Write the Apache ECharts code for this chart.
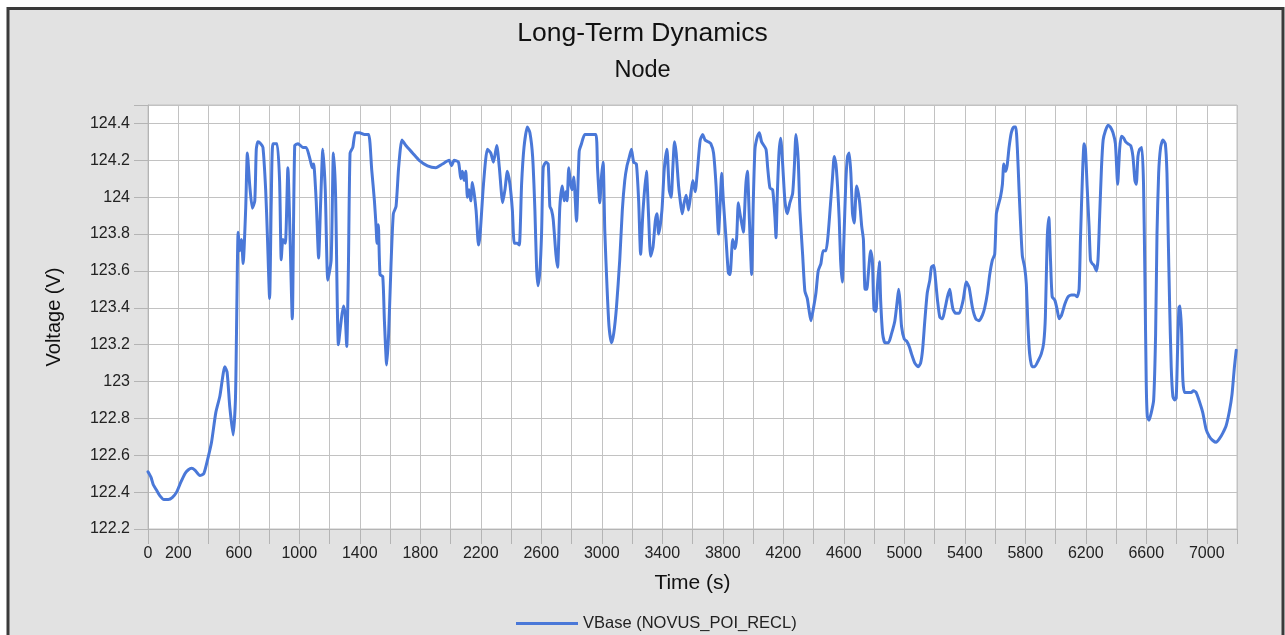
<!DOCTYPE html>
<html>
<head>
<meta charset="utf-8">
<title>Long-Term Dynamics</title>
<script src="https://cdn.jsdelivr.net/npm/echarts@6/dist/echarts.min.js"></script>
<style>
  html, body { margin: 0; padding: 0; background: #fff; }
  #pic1 { width: 1285px; height: 635px; }
</style>
</head>
<body>
<div id="pic1"></div>
<script>
// time (s) of each sample
var times = [
  0, 20, 35, 57, 79, 105, 134, 160, 189, 215, 244, 265, 288, 310, 343, 369, 398, 420, 448, 475, 508, 523, 541, 563, 578, 585, 589,
  596, 607, 618, 629, 646, 657, 673, 690, 706, 716, 727, 745, 760, 778, 789, 804, 815, 826, 853, 870,
  881, 892, 908, 925, 936, 954, 970, 992, 1024, 1046, 1073, 1086, 1095, 1112, 1128, 1141, 1156, 1172, 1189, 1211,
  1226, 1240, 1259, 1277, 1292, 1303, 1314, 1325, 1336, 1354, 1371, 1398, 1431, 1459, 1479, 1497, 1508, 1514, 1523, 1534,
  1552, 1563, 1578, 1591, 1607, 1622, 1640, 1657, 1679, 1705, 1749, 1793, 1848, 1903, 1947, 1991, 2007, 2024, 2053, 2068,
  2079, 2090, 2101, 2112, 2123, 2134, 2145, 2169, 2185, 2196, 2218, 2244, 2266, 2284, 2306, 2323, 2345, 2360, 2376, 2393,
  2409, 2422, 2442, 2455, 2470, 2486, 2508, 2525, 2543, 2558, 2569, 2578, 2591, 2602, 2613, 2631, 2646, 2657, 2668, 2679,
  2697, 2708, 2723, 2739, 2752, 2763, 2771, 2782, 2793, 2804, 2815, 2833, 2851, 2866, 2888, 2921, 2961, 2972, 2987, 2998,
  3009, 3020, 3035, 3048, 3064, 3079, 3097, 3119, 3136, 3152, 3167, 3180, 3196, 3211, 3229, 3244, 3257, 3273, 3295, 3310,
  3323, 3339, 3354, 3365, 3376, 3398, 3413, 3431, 3446, 3459, 3470, 3481, 3492, 3508, 3519, 3532, 3545, 3558, 3574, 3589,
  3602, 3618, 3633, 3651, 3668, 3683, 3705, 3721, 3739, 3756, 3772, 3783, 3793, 3804, 3822, 3837, 3848, 3866, 3881, 3892,
  3903, 3914, 3925, 3936, 3952, 3963, 3976, 3991, 4002, 4013, 4029, 4042, 4057, 4086, 4097, 4112, 4130, 4145, 4152, 4161,
  4172, 4183, 4196, 4211, 4227, 4244, 4262, 4273, 4284, 4299, 4310, 4328, 4343, 4359, 4370, 4383, 4398, 4416, 4431, 4449,
  4464, 4482, 4497, 4513, 4526, 4537, 4548, 4559, 4570, 4579, 4590, 4601, 4614, 4625, 4636, 4647, 4658, 4669, 4685, 4704,
  4719, 4730, 4741, 4752, 4763, 4778, 4789, 4800, 4813, 4822, 4835, 4844, 4857, 4873, 4895, 4916, 4938, 4954, 4963, 4971,
  4982, 5000, 5015, 5033, 5048, 5070, 5092, 5108, 5121, 5136, 5152, 5169, 5180, 5196, 5207, 5220, 5235, 5253, 5268, 5286,
  5301, 5312, 5323, 5341, 5363, 5389, 5411, 5429, 5451, 5473, 5495, 5517, 5532, 5550, 5565, 5583, 5598, 5609, 5620, 5636,
  5649, 5658, 5669, 5680, 5693, 5708, 5724, 5737, 5748, 5759, 5770, 5781, 5796, 5807, 5818, 5829, 5845, 5862, 5884, 5906,
  5922, 5933, 5945, 5956, 5967, 5978, 5996, 6011, 6024, 6040, 6062, 6084, 6106, 6127, 6143, 6156, 6165, 6178, 6189, 6198,
  6209, 6222, 6231, 6242, 6255, 6270, 6281, 6292, 6304, 6315, 6330, 6347, 6363, 6380, 6396, 6411, 6424, 6435, 6451, 6464,
  6479, 6497, 6512, 6525, 6534, 6545, 6556, 6571, 6582, 6591, 6600, 6607, 6618, 6633, 6649, 6662, 6671, 6682, 6695, 6710,
  6726, 6737, 6745, 6754, 6765, 6776, 6787, 6798, 6807, 6816, 6824, 6833, 6842, 6853, 6875, 6897, 6912, 6930, 6952, 6974,
  6996, 7018, 7040, 7062, 7084, 7106, 7128, 7150, 7167, 7183, 7195
];
// VBase (NOVUS_POI_RECL) voltage (V)
var vbase = [
  122.51, 122.48, 122.44, 122.41, 122.38, 122.36, 122.36, 122.37, 122.40, 122.45, 122.50, 122.52, 122.53, 122.52, 122.49, 122.50, 122.59, 122.67, 122.83, 122.92, 123.08, 123.05, 122.86, 122.71, 122.90, 123.26, 123.51,
  123.81, 123.71, 123.77, 123.64, 123.94, 124.24, 124.06, 123.94, 123.98, 124.26, 124.30, 124.29, 124.27, 124.04, 123.80, 123.45, 123.98, 124.29, 124.29, 124.09,
  123.66, 123.77, 123.75, 124.16, 123.89, 123.34, 124.28, 124.29, 124.27, 124.27, 124.20, 124.16, 124.18, 123.98, 123.67, 123.96, 124.26, 124.04, 123.55, 123.66,
  124.24, 124.02, 123.20, 123.33, 123.41, 123.37, 123.19, 123.62, 124.24, 124.27, 124.35, 124.35, 124.34, 124.34, 124.15, 123.98, 123.84, 123.75, 123.85, 123.58,
  123.57, 123.33, 123.09, 123.26, 123.64, 123.91, 123.95, 124.16, 124.31, 124.28, 124.24, 124.20, 124.17, 124.16, 124.18, 124.20, 124.17, 124.20, 124.19, 124.10,
  124.14, 124.09, 124.14, 124.00, 124.04, 123.98, 124.08, 123.93, 123.74, 123.80, 124.07, 124.26, 124.24, 124.19, 124.28, 124.16, 123.97, 124.04, 124.14, 124.07,
  123.93, 123.75, 123.75, 123.74, 124.07, 124.27, 124.38, 124.35, 124.22, 123.93, 123.62, 123.52, 123.60, 123.80, 124.16, 124.19, 124.18, 123.95, 123.93, 123.88,
  123.69, 123.62, 123.95, 124.06, 123.98, 124.03, 123.98, 124.16, 124.08, 124.04, 124.11, 123.87, 124.25, 124.29, 124.34, 124.34, 124.34, 124.16, 123.97, 124.11,
  124.19, 123.82, 123.51, 123.30, 123.21, 123.26, 123.40, 123.66, 123.93, 124.09, 124.17, 124.21, 124.26, 124.19, 124.18, 123.98, 123.69, 123.93, 124.14, 123.89,
  123.68, 123.73, 123.87, 123.91, 123.80, 123.93, 124.15, 124.26, 124.04, 124.00, 124.16, 124.30, 124.24, 124.06, 123.98, 123.91, 123.97, 124.01, 123.93, 124.02,
  124.09, 124.03, 124.15, 124.31, 124.34, 124.31, 124.30, 124.29, 124.24, 124.06, 123.80, 123.97, 124.13, 123.98, 123.77, 123.59, 123.58, 123.77, 123.72, 123.78,
  123.97, 123.91, 123.86, 123.81, 124.06, 124.14, 123.88, 123.58, 123.98, 124.26, 124.33, 124.35, 124.30, 124.26, 124.16, 124.05, 124.04, 123.89, 123.78, 124.02,
  124.24, 124.32, 124.18, 123.98, 123.91, 123.97, 124.02, 124.16, 124.34, 124.20, 123.93, 123.69, 123.49, 123.45, 123.39, 123.33, 123.39, 123.48, 123.60, 123.64,
  123.71, 123.71, 123.80, 123.97, 124.11, 124.22, 124.18, 124.06, 123.88, 123.66, 123.54, 123.77, 124.09, 124.22, 124.24, 124.13, 123.91, 123.86, 124.06, 123.98,
  123.84, 123.77, 123.50, 123.50, 123.59, 123.71, 123.66, 123.39, 123.38, 123.51, 123.65, 123.44, 123.26, 123.21, 123.21, 123.26, 123.33, 123.44, 123.50, 123.44,
  123.30, 123.23, 123.22, 123.19, 123.15, 123.10, 123.08, 123.10, 123.17, 123.33, 123.48, 123.55, 123.62, 123.63, 123.55, 123.44, 123.35, 123.34, 123.39, 123.46,
  123.50, 123.44, 123.39, 123.37, 123.37, 123.44, 123.54, 123.51, 123.40, 123.34, 123.33, 123.36, 123.40, 123.48, 123.58, 123.66, 123.69, 123.91, 123.95, 124.00,
  124.07, 124.18, 124.14, 124.17, 124.27, 124.35, 124.38, 124.38, 124.26, 124.04, 123.84, 123.68, 123.62, 123.53, 123.30, 123.15, 123.08, 123.08, 123.11, 123.15,
  123.21, 123.35, 123.77, 123.89, 123.66, 123.46, 123.44, 123.39, 123.34, 123.36, 123.42, 123.46, 123.47, 123.47, 123.46, 123.50, 123.77, 124.11, 124.29, 124.26,
  124.06, 123.84, 123.66, 123.64, 123.63, 123.60, 123.66, 123.90, 124.16, 124.31, 124.36, 124.39, 124.38, 124.35, 124.29, 124.07, 124.26, 124.33, 124.32, 124.30,
  124.29, 124.28, 124.22, 124.09, 124.07, 124.22, 124.26, 124.27, 124.07, 123.57, 122.99, 122.81, 122.79, 122.83, 122.90, 123.26, 123.80, 124.13, 124.27, 124.31,
  124.29, 124.13, 123.80, 123.44, 123.08, 122.92, 122.90, 122.91, 123.17, 123.40, 123.41, 123.28, 123.01, 122.94, 122.94, 122.94, 122.95, 122.94, 122.89, 122.83,
  122.74, 122.70, 122.68, 122.67, 122.69, 122.72, 122.76, 122.84, 122.93, 123.08, 123.17
];
// tick labels that are printed on the axes
var xLabels = [0, 200, 600, 1000, 1400, 1800, 2200, 2600, 3000, 3400, 3800, 4200, 4600, 5000, 5400, 5800, 6200, 6600, 7000];
var yLabels = [122.2, 122.4, 122.6, 122.8, 123, 123.2, 123.4, 123.6, 123.8, 124, 124.2, 124.4];

var FONT = "'Liberation Sans', Arial, sans-serif";

function drawChart() {
  var myChart = echarts.init(document.getElementById("pic1"));
  var data = times.map(function (t, i) { return [t, vbase[i]]; });

  var option = {
    backgroundColor: "#fff",
    animation: false,
    textStyle: { fontFamily: FONT },
    graphic: [
      {
        type: "rect",
        z: -10,
        silent: true,
        shape: { x: 8, y: 8.5, width: 1275, height: 700 },
        style: { fill: "#e2e2e2", stroke: "#3a3a3a", lineWidth: 3 }
      }
    ],
    title: {
      text: "Long-Term Dynamics",
      subtext: "Node",
      left: "center",
      top: 15,
      itemGap: 12,
      textStyle: { fontSize: 26.5, fontWeight: "normal", color: "#111", fontFamily: FONT },
      subtextStyle: { fontSize: 23.5, color: "#111", fontFamily: FONT }
    },
    legend: {
      left: 511,
      top: 610,
      icon: "rect",
      itemWidth: 62,
      itemHeight: 3,
      textStyle: { fontSize: 16.5, color: "#222", fontFamily: FONT },
      data: ["VBase (NOVUS_POI_RECL)"]
    },
    grid: {
      left: 148,
      top: 105,
      width: 1089,
      height: 424,
      show: true,
      backgroundColor: "#fff",
      borderColor: "#c2c2c2",
      borderWidth: 1
    },
    xAxis: {
      type: "value",
      min: 0,
      max: 7200,
      interval: 200,
      name: "Time (s)",
      nameLocation: "middle",
      nameGap: 44,
      nameTextStyle: { fontSize: 21, color: "#111", fontFamily: FONT },
      axisLine: { show: true, lineStyle: { color: "#b4b4b4" } },
      axisTick: { show: true, length: 15, lineStyle: { color: "#b4b4b4" } },
      splitLine: { show: true, lineStyle: { color: "#c2c2c2", width: 1 } },
      axisLabel: {
        interval: 0,
        margin: 17,
        fontSize: 16,
        color: "#222",
        fontFamily: FONT,
        formatter: function (v) {
          return xLabels.indexOf(Math.round(v)) >= 0 ? String(Math.round(v)) : "";
        }
      }
    },
    yAxis: {
      type: "value",
      min: 122.2,
      max: 124.5,
      interval: 0.2,
      name: "Voltage (V)",
      nameLocation: "middle",
      nameGap: 84,
      nameTextStyle: { fontSize: 20, color: "#111", fontFamily: FONT },
      axisLine: { show: true, lineStyle: { color: "#b4b4b4" } },
      axisTick: { show: true, length: 14, lineStyle: { color: "#b4b4b4" } },
      splitLine: { show: true, lineStyle: { color: "#c2c2c2", width: 1 } },
      axisLabel: {
        margin: 18,
        fontSize: 16,
        color: "#222",
        fontFamily: FONT,
        formatter: function (v) {
          var r = Math.round(v * 10) / 10;
          for (var i = 0; i < yLabels.length; i++) {
            if (Math.abs(yLabels[i] - v) < 0.001) return String(r);
          }
          return "";
        }
      }
    },
    series: [
      {
        name: "VBase (NOVUS_POI_RECL)",
        type: "line",
        data: data,
        showSymbol: false,
        symbol: "none",
        smooth: 0.2,
        itemStyle: { color: "#4a78d8" },
        lineStyle: { color: "#4a78d8", width: 3, join: "round", cap: "round" }
      }
    ]
  };
  myChart.setOption(option);
}

drawChart();
</script>
</body>
</html>
